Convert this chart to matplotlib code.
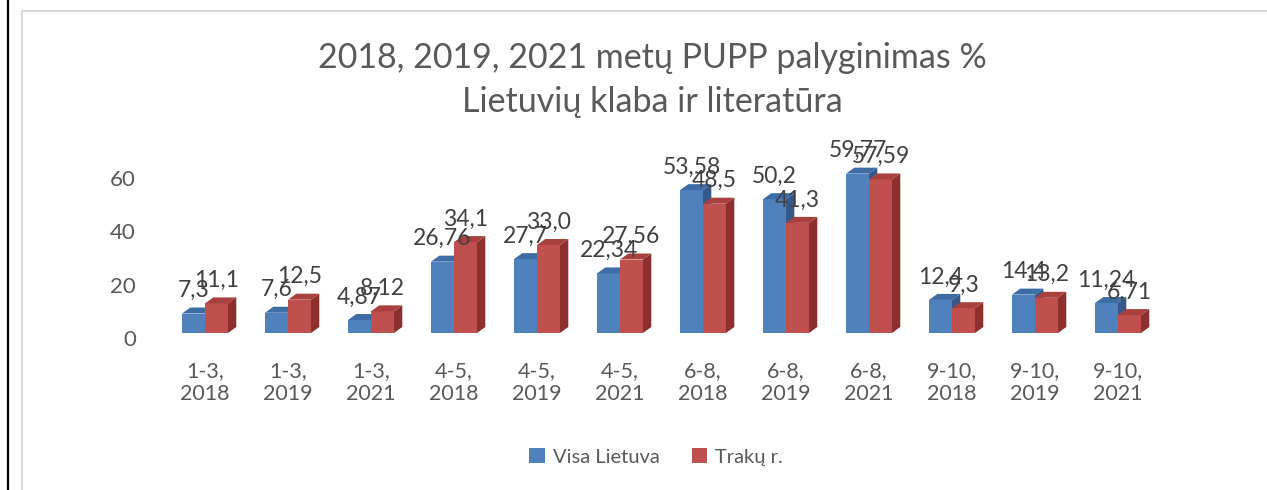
import matplotlib
matplotlib.use('Agg')
import matplotlib.pyplot as plt
from matplotlib.patches import Polygon, Rectangle, Patch
from matplotlib.lines import Line2D
import matplotlib.transforms as mtransforms

plt.rcParams['font.family'] = ['Lato', 'DejaVu Sans']

# 데이터
categories = ['1-3,\n2018', '1-3,\n2019', '1-3,\n2021',
              '4-5,\n2018', '4-5,\n2019', '4-5,\n2021',
              '6-8,\n2018', '6-8,\n2019', '6-8,\n2021',
              '9-10,\n2018', '9-10,\n2019', '9-10,\n2021']
visa_lietuva = [7.3, 7.6, 4.87, 26.76, 27.7, 22.34, 53.58, 50.2, 59.77, 12.4, 14.4, 11.24]
traku = [11.1, 12.5, 8.12, 34.1, 33.0, 27.56, 48.5, 41.3, 57.59, 9.3, 13.2, 6.71]
visa_labels = ['7,3', '7,6', '4,87', '26,76', '27,7', '22,34', '53,58', '50,2', '59,77', '12,4', '14,4', '11,24']
traku_labels = ['11,1', '12,5', '8,12', '34,1', '33,0', '27,56', '48,5', '41,3', '57,59', '9,3', '13,2', '6,71']

W, H = 1267, 490
fig = plt.figure(figsize=(W / 100, H / 100), dpi=100)

# 테두리
fig.add_artist(Line2D([7.5 / W, 7.5 / W], [0, 1], color='black', lw=1.6))
fig.add_artist(Rectangle((22 / W, -0.1), 1.2, 1 - 11 / H + 0.1, fill=False,
                         edgecolor='#D9D9D9', lw=1.5))

ax = fig.add_axes([155.2 / W, 1 - 333 / H, 1012.6 / W, 173.3 / H])
ax.set_xlim(-0.6, 11.6)
ax.set_ylim(0, 65)

bw = 0.277     # 막대 폭
dx = 0.10      # 옆면 깊이
dy = 2.25      # 윗면 깊이

def bar3d(x0, h, front, side, top):
    ax.add_patch(Rectangle((x0, 0), bw, h, facecolor=front, edgecolor='none', zorder=2))
    ax.add_patch(Polygon([(x0 + bw, 0), (x0 + bw + dx, dy), (x0 + bw + dx, h + dy), (x0 + bw, h)],
                         closed=True, facecolor=side, edgecolor='none', zorder=2))
    ax.add_patch(Polygon([(x0, h), (x0 + dx, h + dy), (x0 + bw + dx, h + dy), (x0 + bw, h)],
                         closed=True, facecolor=top, edgecolor='none', zorder=2))

for i in range(len(categories)):
    bar3d(i - bw, visa_lietuva[i], '#4F81BD', '#34598A', '#3E6DA6')
    bar3d(i, traku[i], '#C0504D', '#8C2F2D', '#A8413E')

for i in range(len(categories)):
    ax.annotate(visa_labels[i], (i - bw / 2, visa_lietuva[i]), xytext=(0, 9),
                textcoords='offset points', ha='center', va='bottom',
                fontsize=16.5, color='#404040', zorder=5)
    ax.annotate(traku_labels[i], (i + bw / 2, traku[i]), xytext=(0, 9),
                textcoords='offset points', ha='center', va='bottom',
                fontsize=16.5, color='#404040', zorder=5)

ax.set_xticks(range(len(categories)))
ax.set_xticklabels(categories, fontsize=15.5, color='#595959', linespacing=1.2)
ax.set_yticks([0, 20, 40, 60])
ax.set_yticklabels(['0', '20', '40', '60'], fontsize=16, color='#595959')
ax.tick_params(axis='both', length=0)
ax.tick_params(axis='y', pad=14)
ax.tick_params(axis='x', pad=20)
off = mtransforms.ScaledTranslation(0, -5 / 100, fig.dpi_scale_trans)
for lab in ax.get_yticklabels():
    lab.set_transform(lab.get_transform() + off)
for s in ax.spines.values():
    s.set_visible(False)
ax.patch.set_visible(False)

fig.text(652 / W, 1 - 80 / H, '2018, 2019, 2021 metų PUPP palyginimas %\nLietuvių klaba ir literatūra',
         ha='center', va='center', fontsize=24.5, color='#595959', linespacing=1.45)

handles = [Patch(facecolor='#4F81BD'), Patch(facecolor='#C0504D')]
fig.legend(handles, ['Visa Lietuva', 'Trakų r.'], loc='center', ncol=2,
           bbox_to_anchor=(656 / W, 1 - 457 / H), frameon=False, fontsize=14.5,
           handlelength=0.75, handleheight=0.75, handletextpad=0.4, columnspacing=1.6,
           labelcolor='#595959')

fig.savefig('out.png', dpi=100)
